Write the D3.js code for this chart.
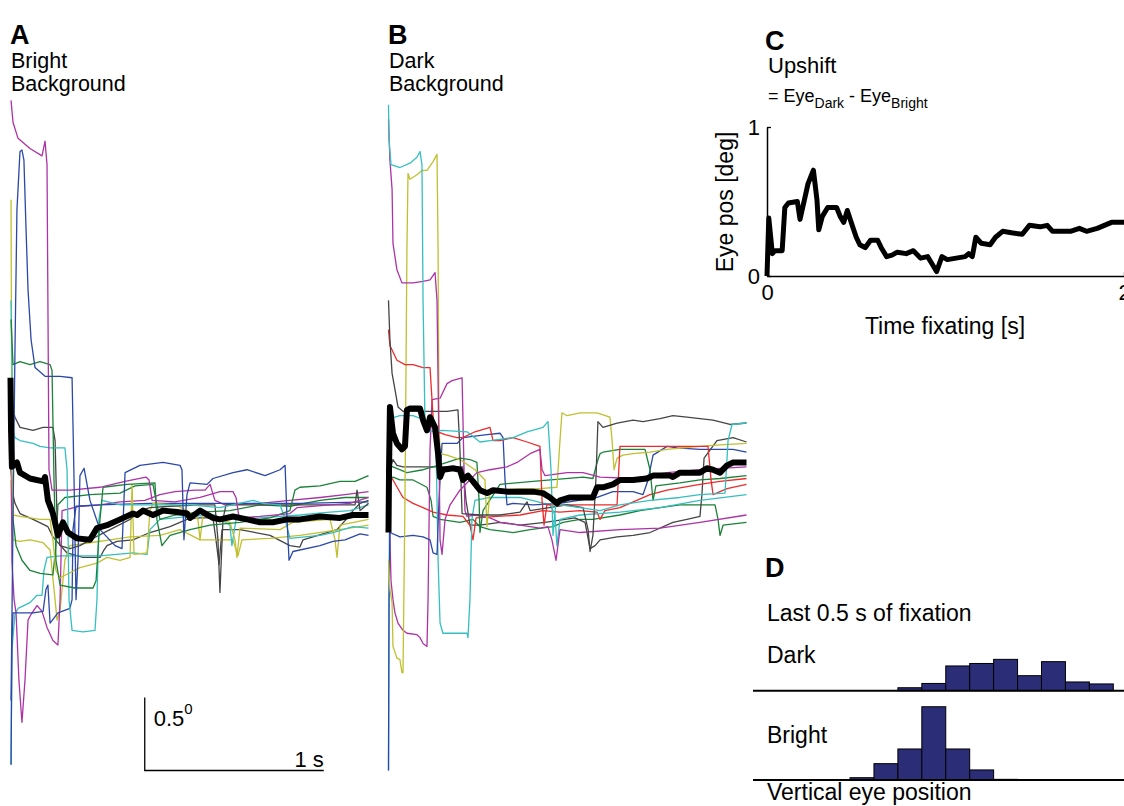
<!DOCTYPE html>
<html>
<head>
<meta charset="utf-8">
<script src="https://cdn.jsdelivr.net/npm/d3@7"></script>
<style>
  html, body { margin: 0; padding: 0; background: #fff; }
  svg { display: block; font-family: "Liberation Sans", Arial, Helvetica, sans-serif; }
</style>
</head>
<body>
<svg id="fig" width="1124" height="806"></svg>
<script>
// ---- Eye position traces, time fixating [s] vs vertical eye position [deg] ----
// Bright background, individual fixations
const brightMagenta1 = [[0.003,2.84],[0.014,2.69],[0.042,2.58],[0.109,2.51],[0.176,2.46],[0.193,2.56],[0.204,2.40],[0.215,0.31],[0.232,0.17],[0.332,0.17],[0.500,0.19],[0.640,0.23],[0.757,0.26],[0.774,0.24],[0.791,0.10],[0.919,0.09],[1.059,0.12],[1.170,0.16],[1.243,0.16],[1.260,0.12],[1.277,-0.02],[1.394,-0.01],[1.561,0.01],[1.600,0.05],[1.785,0.07],[1.897,0.08],[2.0,0.12]];
const brightBlue1 = [[0.003,-1.27],[0.014,-0.03],[0.025,1.13],[0.036,2.09],[0.053,2.49],[0.064,2.50],[0.075,2.43],[0.087,1.95],[0.098,1.54],[0.115,1.20],[0.137,1.01],[0.193,0.95],[0.277,0.95],[0.344,0.94],[0.355,0.24],[0.366,-0.58],[0.377,-0.31],[0.388,0.27],[0.411,0.32],[0.444,0.10],[0.500,-0.10],[0.584,-0.21],[0.623,-0.23],[0.640,0.29],[0.723,0.34],[0.852,0.36],[0.947,0.34],[0.958,0.31],[0.969,-0.17],[0.986,0.14],[1.003,0.22],[1.098,0.21],[1.131,0.25],[1.243,0.29],[1.321,0.31],[1.422,0.27],[1.506,0.31],[1.534,0.34],[1.545,-0.03],[1.556,-0.31],[1.578,-0.25],[1.729,-0.21],[1.802,-0.18],[1.869,-0.17],[1.953,-0.13],[2.0,-0.14]];
const brightBlue2 = [[0.003,-1.71],[0.008,-0.86],[0.014,-0.67],[0.126,-0.67],[0.182,-0.66],[0.198,-0.51],[0.209,-0.48],[0.221,-0.74],[0.265,-0.67],[0.332,-0.64],[0.344,-0.58],[0.349,-0.10],[0.366,0.06],[0.500,0.07],[0.779,0.08],[1.059,0.08],[1.338,0.08],[1.617,0.08],[2.0,0.09]];
const brightGreen1 = [[0.003,1.34],[0.014,1.03],[0.053,1.05],[0.109,1.03],[0.165,1.05],[0.221,1.03],[0.232,0.99],[0.243,0.24],[0.254,-0.31],[0.277,-0.48],[0.360,-0.50],[0.461,-0.50],[0.478,-0.45],[0.500,-0.03],[0.517,0.19],[0.651,0.21],[0.807,0.22],[0.818,-0.03],[0.846,-0.21],[0.891,-0.14],[1.003,-0.10],[1.115,-0.07],[1.282,-0.05],[1.450,-0.02],[1.561,0.03],[1.589,0.17],[1.617,0.19],[1.729,0.20],[1.841,0.23],[1.925,0.23],[2.0,0.27]];
const brightGreen2 = [[0.003,0.38],[0.014,-0.03],[0.031,-0.21],[0.064,-0.31],[0.109,-0.38],[0.165,-0.40],[0.237,-0.41],[0.254,-0.21],[0.265,0.07],[0.304,0.12],[0.444,0.14],[0.612,0.15],[0.696,0.20],[0.796,0.21],[0.813,0.10],[0.835,-0.03],[0.919,0.00],[1.059,0.02],[1.226,0.03],[1.394,0.07],[1.561,0.06],[1.729,0.10],[1.869,0.12],[2.0,0.12]];
const brightGray1 = [[0.003,0.93],[0.014,0.72],[0.025,0.67],[0.053,0.60],[0.126,0.58],[0.182,0.60],[0.237,0.60],[0.249,0.51],[0.260,-0.03],[0.277,-0.21],[0.332,-0.23],[0.388,-0.21],[0.444,-0.17],[0.556,-0.10],[0.668,-0.03],[0.723,0.03],[0.779,0.05],[0.891,0.06],[1.059,0.07],[1.142,0.07],[1.159,-0.17],[1.170,-0.53],[1.187,-0.03],[1.204,0.07],[1.394,0.07],[1.617,0.07],[1.841,0.07],[1.925,0.07],[1.936,0.17],[1.953,0.03],[2.0,0.08]];
const brightGray2 = [[0.003,0.31],[0.014,0.14],[0.025,0.08],[0.053,0.01],[0.126,-0.03],[0.209,-0.08],[0.237,-0.15],[0.316,-0.26],[0.405,-0.29],[0.500,-0.29],[0.522,-0.24],[0.539,-0.21],[0.595,-0.18],[0.684,-0.17],[0.779,-0.12],[0.891,-0.08],[0.986,-0.03],[1.059,-0.02],[1.131,-0.02],[1.148,-0.17],[1.165,-0.34],[1.182,-0.10],[1.282,-0.10],[1.450,-0.14],[1.561,-0.21],[1.617,-0.22],[1.634,-0.17],[1.690,-0.15],[1.824,-0.10],[1.897,0.00],[1.913,0.03],[1.953,0.08],[2.0,0.10]];
const brightCyan1 = [[0.003,1.47],[0.014,0.58],[0.025,0.53],[0.053,0.51],[0.126,0.49],[0.165,0.47],[0.221,0.46],[0.304,0.46],[0.316,0.31],[0.327,-0.58],[0.344,-0.79],[0.405,-0.80],[0.472,-0.79],[0.483,-0.58],[0.494,-0.03],[0.511,0.10],[0.612,0.07],[0.779,0.07],[1.003,0.07],[1.170,0.05],[1.355,0.10],[1.411,0.08],[1.506,0.07],[1.534,-0.03],[1.561,-0.16],[1.729,-0.14],[1.802,-0.12],[1.913,-0.08],[2.0,-0.09]];
const brightCyan2 = [[0.003,-1.71],[0.008,-0.92],[0.025,-0.68],[0.042,-0.64],[0.109,-0.60],[0.148,-0.55],[0.176,-0.55],[0.187,-0.38],[0.204,-0.29],[0.277,-0.28],[0.500,-0.28],[0.684,-0.26],[0.763,-0.27],[0.779,-0.10],[0.835,-0.03],[1.003,-0.01],[1.142,0.00],[1.226,-0.07],[1.237,-0.21],[1.260,-0.03],[1.394,-0.02],[1.617,0.00],[1.785,0.02],[1.897,0.03],[2.0,0.07]];
const brightOlive1 = [[0.003,2.16],[0.008,0.31],[0.014,0.00],[0.053,-0.01],[0.165,-0.03],[0.221,-0.03],[0.237,-0.17],[0.254,-0.38],[0.277,-0.43],[0.388,-0.36],[0.483,-0.33],[0.539,-0.29],[0.612,-0.31],[0.668,-0.29],[0.679,0.21],[0.690,-0.27],[0.763,-0.26],[0.779,0.03],[0.796,0.08],[0.919,0.07],[0.986,0.03],[1.047,-0.03],[1.059,-0.17],[1.075,0.00],[1.226,-0.05],[1.254,-0.17],[1.265,-0.29],[1.282,-0.09],[1.506,-0.10],[1.578,-0.05],[1.785,-0.03],[1.813,-0.17],[1.824,-0.29],[1.841,-0.07],[2.0,-0.03]];
const brightOlive2 = [[0.003,0.24],[0.008,-0.10],[0.014,-0.17],[0.053,-0.18],[0.109,-0.17],[0.182,-0.19],[0.221,-0.24],[0.249,-0.58],[0.260,-0.72],[0.277,-0.65],[0.304,-0.31],[0.332,-0.21],[0.444,-0.19],[0.556,-0.17],[0.668,-0.15],[0.835,-0.14],[0.947,-0.10],[1.059,-0.17],[1.243,-0.17],[1.271,-0.28],[1.293,-0.17],[1.450,-0.16],[1.617,-0.14],[1.841,-0.10],[2.0,-0.07]];
const brightMagenta2 = [[0.003,0.65],[0.008,-0.31],[0.020,-0.58],[0.031,-0.67],[0.047,-1.13],[0.064,-1.42],[0.081,-1.13],[0.098,-0.72],[0.115,-0.68],[0.148,-0.62],[0.176,-0.66],[0.204,-0.77],[0.237,-0.86],[0.265,-0.89],[0.277,-0.58],[0.288,0.03],[0.388,0.06],[0.500,0.07],[0.612,0.09],[0.751,0.10],[0.835,0.14],[0.919,0.16],[1.031,0.17],[1.087,0.17],[1.115,0.21],[1.142,0.10],[1.198,0.07],[1.394,0.08],[1.561,0.10],[1.729,0.12],[1.869,0.14],[2.0,0.16]];
// Bright background, mean over fixations
const brightMean = [[0,0.94],[0.003,0.58],[0.008,0.33],[0.036,0.36],[0.053,0.29],[0.109,0.25],[0.182,0.23],[0.193,0.26],[0.209,0.10],[0.237,0.01],[0.265,-0.14],[0.293,-0.05],[0.321,-0.12],[0.372,-0.16],[0.444,-0.17],[0.483,-0.09],[0.539,-0.07],[0.612,-0.03],[0.684,0.01],[0.707,0.00],[0.740,0.03],[0.796,0.00],[0.852,0.03],[0.930,0.02],[0.986,0.01],[1.003,-0.02],[1.059,0.03],[1.131,-0.02],[1.170,-0.03],[1.243,-0.01],[1.321,-0.03],[1.394,-0.05],[1.466,-0.05],[1.545,-0.03],[1.617,-0.03],[1.729,-0.01],[1.841,-0.02],[1.913,0.00],[2.0,0.00]];

// Dark background, individual fixations
const darkCyan1 = [[0,2.81],[0.003,2.57],[0.014,2.40],[0.064,2.38],[0.120,2.41],[0.159,2.45],[0.176,2.49],[0.187,2.40],[0.193,1.47],[0.204,0.62],[0.221,0.57],[0.299,0.58],[0.439,0.57],[0.511,0.50],[0.567,0.51],[0.696,0.53],[0.774,0.57],[0.863,0.60],[0.891,0.64],[0.908,0.31],[0.919,-0.14],[0.936,0.10],[0.958,0.07],[1.070,0.05],[1.182,0.03],[1.293,0.07],[1.461,0.10],[1.628,0.12],[1.740,0.14],[1.880,0.15],[1.897,0.51],[1.919,0.62],[2.0,0.63]];
const darkCyan2 = [[0,-1.75],[0.003,-0.58],[0.008,0.66],[0.064,0.68],[0.137,0.68],[0.204,0.65],[0.243,0.62],[0.265,0.51],[0.277,-0.31],[0.288,-0.74],[0.304,-0.81],[0.439,-0.81],[0.444,-0.84],[0.455,-0.58],[0.466,-0.03],[0.483,0.10],[0.567,0.12],[0.735,0.12],[0.902,0.07],[0.930,0.00],[0.941,-0.21],[0.958,-0.03],[1.070,0.00],[1.293,0.02],[1.517,0.05],[1.740,0.10],[2.0,0.14]];
const darkMagenta1 = [[0,2.71],[0.008,2.43],[0.020,2.23],[0.025,1.86],[0.047,1.68],[0.075,1.59],[0.137,1.59],[0.193,1.60],[0.232,1.61],[0.260,1.66],[0.271,1.47],[0.282,0.45],[0.288,-0.17],[0.299,-0.27],[0.316,-0.03],[0.344,0.07],[0.399,0.17],[0.494,0.29],[0.567,0.31],[0.662,0.33],[0.718,0.36],[0.791,0.42],[0.846,0.45],[0.858,0.31],[0.874,0.27],[0.997,0.29],[1.087,0.29],[1.182,0.26],[1.366,0.25],[1.556,0.29],[1.740,0.31],[1.852,0.32],[2.0,0.33]];
const darkMagenta2 = [[0,0.65],[0.003,0.10],[0.014,-0.45],[0.025,-0.58],[0.036,-0.67],[0.053,-0.74],[0.081,-0.79],[0.103,-0.81],[0.159,-0.82],[0.176,-0.84],[0.193,-0.88],[0.215,-0.90],[0.221,-0.58],[0.232,0.45],[0.243,0.79],[0.288,0.80],[0.327,0.90],[0.355,0.92],[0.411,0.94],[0.416,0.65],[0.427,0.03],[0.439,-0.01],[0.483,0.00],[0.567,-0.02],[0.623,-0.05],[0.735,-0.07],[0.846,-0.09],[0.891,-0.08],[0.913,-0.17],[0.936,-0.31],[0.958,-0.10],[1.070,-0.12],[1.293,-0.10],[1.517,-0.09],[1.740,-0.05],[2.0,0.00]];
const darkOlive1 = [[0,-0.31],[0.008,-0.51],[0.020,-0.60],[0.025,-0.90],[0.047,-0.98],[0.064,-0.99],[0.075,-1.08],[0.081,-1.08],[0.092,0.10],[0.103,1.82],[0.109,2.34],[0.120,2.30],[0.159,2.33],[0.187,2.36],[0.215,2.36],[0.249,2.42],[0.271,2.47],[0.277,1.82],[0.282,0.65],[0.288,0.42],[0.327,0.41],[0.399,0.38],[0.483,0.31],[0.539,0.24],[0.550,-0.08],[0.567,0.17],[0.735,0.18],[0.846,0.18],[0.941,0.19],[0.958,0.51],[0.969,0.70],[0.997,0.68],[1.070,0.70],[1.165,0.70],[1.237,0.67],[1.249,0.51],[1.260,0.31],[1.277,0.39],[1.310,0.41],[1.366,0.42],[1.461,0.43],[1.556,0.45],[1.645,0.46],[1.740,0.47],[1.852,0.48],[2.0,0.49]];
const darkRed1 = [[0,1.27],[0.008,1.16],[0.020,1.13],[0.047,1.06],[0.092,1.03],[0.137,1.03],[0.193,1.01],[0.232,1.01],[0.243,0.79],[0.254,0.58],[0.316,0.55],[0.383,0.53],[0.416,0.53],[0.483,0.57],[0.567,0.60],[0.584,0.51],[0.623,0.51],[0.696,0.53],[0.774,0.50],[0.846,0.47],[0.858,0.10],[0.869,-0.07],[0.885,0.07],[0.958,0.07],[1.182,0.07],[1.277,0.07],[1.293,0.47],[1.405,0.47],[1.556,0.47],[1.740,0.47],[1.785,0.47],[1.802,0.24],[1.813,0.14],[1.891,0.18],[2.0,0.21]];
const darkRed2 = [[0,0.31],[0.008,0.27],[0.025,0.24],[0.081,0.12],[0.137,0.08],[0.193,0.05],[0.249,0.02],[0.327,0.00],[0.416,-0.01],[0.455,-0.07],[0.472,-0.17],[0.489,-0.02],[0.606,-0.01],[0.735,0.00],[0.863,0.03],[0.958,0.02],[1.070,0.03],[1.165,0.02],[1.182,-0.03],[1.209,0.03],[1.293,0.05],[1.461,0.14],[1.556,0.17],[1.740,0.21],[1.852,0.23],[2.0,0.25]];
const darkGray1 = [[0,1.47],[0.008,1.20],[0.020,0.97],[0.036,0.86],[0.053,0.74],[0.081,0.71],[0.232,0.71],[0.327,0.71],[0.388,0.72],[0.399,0.45],[0.411,0.01],[0.511,0.00],[0.623,0.00],[0.735,0.02],[0.774,0.09],[0.791,0.03],[0.997,0.07],[1.087,0.05],[1.115,-0.10],[1.126,-0.25],[1.142,-0.14],[1.159,0.25],[1.170,0.64],[1.198,0.60],[1.277,0.63],[1.366,0.65],[1.422,0.64],[1.517,0.66],[1.589,0.68],[1.667,0.67],[1.740,0.66],[1.813,0.65],[1.908,0.62],[2.0,0.63]];
const darkGray2 = [[0,0.24],[0.008,0.31],[0.025,0.38],[0.047,0.34],[0.081,0.33],[0.176,0.33],[0.288,0.33],[0.416,0.33],[0.433,0.10],[0.455,-0.07],[0.511,-0.07],[0.623,-0.05],[0.735,-0.07],[0.874,-0.05],[0.986,-0.03],[1.042,-0.02],[1.098,-0.05],[1.126,-0.23],[1.154,-0.21],[1.182,-0.17],[1.277,-0.15],[1.366,-0.14],[1.461,-0.12],[1.589,-0.05],[1.667,-0.03],[1.740,-0.01],[1.751,0.14],[1.763,0.39],[1.835,0.51],[1.925,0.53],[2.0,0.50]];
const darkBlue1 = [[0,-1.75],[0.003,-0.58],[0.008,-0.12],[0.064,-0.15],[0.137,-0.14],[0.193,-0.15],[0.232,-0.17],[0.249,-0.26],[0.271,-0.27],[0.282,0.10],[0.299,0.49],[0.383,0.49],[0.416,0.53],[0.550,0.55],[0.623,0.56],[0.640,0.53],[0.651,0.24],[0.662,0.07],[0.696,0.08],[0.807,0.07],[0.958,0.08],[1.165,0.12],[1.254,0.16],[1.366,0.16],[1.422,0.14],[1.450,0.24],[1.478,0.41],[1.556,0.47],[1.612,0.46],[1.740,0.45],[1.925,0.45],[2.0,0.43]];
const darkGreen1 = [[0,0.38],[0.008,0.34],[0.025,0.33],[0.103,0.29],[0.193,0.31],[0.249,0.33],[0.327,0.36],[0.399,0.39],[0.455,0.38],[0.494,0.36],[0.506,0.10],[0.511,-0.12],[0.528,0.03],[0.623,0.21],[0.807,0.23],[1.087,0.26],[1.142,0.25],[1.170,0.38],[1.182,0.42],[1.198,0.43],[1.293,0.45],[1.433,0.45],[1.461,0.31],[1.478,0.10],[1.494,0.20],[1.628,0.22],[1.740,0.24],[1.852,0.25],[2.0,0.27]];
const darkGreen2 = [[0,0.24],[0.025,0.26],[0.064,0.24],[0.137,0.24],[0.215,0.19],[0.238,0.10],[0.249,-0.01],[0.288,-0.03],[0.399,-0.05],[0.472,-0.03],[0.511,-0.08],[0.567,-0.10],[0.696,-0.12],[0.791,-0.10],[0.919,-0.08],[0.975,-0.05],[1.070,-0.03],[1.142,-0.03],[1.293,0.00],[1.405,0.03],[1.517,0.05],[1.628,0.07],[1.740,0.07],[1.824,0.07],[1.841,-0.03],[1.852,-0.14],[1.869,-0.07],[2.0,-0.05]];
// Dark background, mean over fixations
const darkMean = [[0,-0.12],[0.003,0.31],[0.008,0.74],[0.025,0.56],[0.047,0.49],[0.075,0.45],[0.092,0.47],[0.103,0.72],[0.120,0.73],[0.176,0.73],[0.193,0.65],[0.215,0.58],[0.232,0.67],[0.260,0.60],[0.277,0.42],[0.288,0.26],[0.304,0.31],[0.360,0.32],[0.399,0.31],[0.416,0.24],[0.444,0.27],[0.472,0.23],[0.511,0.17],[0.550,0.15],[0.584,0.17],[0.662,0.16],[0.735,0.16],[0.807,0.16],[0.863,0.15],[0.902,0.12],[0.941,0.08],[0.958,0.10],[1.014,0.12],[1.109,0.12],[1.142,0.12],[1.165,0.19],[1.198,0.19],[1.254,0.21],[1.293,0.24],[1.366,0.24],[1.444,0.25],[1.478,0.27],[1.573,0.27],[1.589,0.26],[1.628,0.29],[1.740,0.29],[1.779,0.32],[1.813,0.31],[1.852,0.29],[1.891,0.34],[1.925,0.36],[2.0,0.36]];

// Upshift = Eye_Dark - Eye_Bright [deg]
const upshift = [[0,0.00],[0.01,0.39],[0.03,0.15],[0.045,0.17],[0.085,0.17],[0.10,0.46],[0.12,0.49],[0.17,0.50],[0.185,0.38],[0.20,0.46],[0.23,0.62],[0.26,0.71],[0.28,0.51],[0.29,0.31],[0.31,0.40],[0.34,0.46],[0.39,0.46],[0.41,0.40],[0.43,0.36],[0.45,0.44],[0.48,0.33],[0.50,0.26],[0.52,0.21],[0.55,0.19],[0.58,0.24],[0.62,0.24],[0.64,0.19],[0.67,0.13],[0.70,0.14],[0.73,0.16],[0.78,0.15],[0.82,0.17],[0.86,0.12],[0.90,0.13],[0.92,0.09],[0.95,0.03],[0.98,0.13],[1.01,0.11],[1.06,0.12],[1.11,0.13],[1.13,0.15],[1.15,0.13],[1.17,0.26],[1.20,0.22],[1.25,0.21],[1.28,0.26],[1.32,0.30],[1.37,0.29],[1.43,0.28],[1.47,0.34],[1.53,0.33],[1.57,0.34],[1.60,0.30],[1.64,0.30],[1.70,0.30],[1.75,0.32],[1.79,0.30],[1.85,0.32],[1.89,0.34],[1.93,0.36],[2.00,0.36]];
const upshiftTicksX = [0, 2];
const upshiftTicksY = [0, 1];

// Histograms of vertical eye position, last 0.5 s of fixation (% of samples)
const binEdgesDeg = [-0.45,-0.30,-0.15,0.00,0.15,0.30,0.45,0.60,0.75,0.90,1.05,1.20];
const darkPct   = [0, 0, 1.8, 4.4, 15.0, 16.5, 19.0, 9.1, 17.6, 5.3, 4.1];
const brightPct = [1.4, 9.9, 18.8, 44.4, 18.8, 6.1, 0.4, 0, 0, 0, 0];

// ---- drawing ----
const C = {
  magenta: "#ac33a6", blue: "#2b48a8", green: "#1b8239", cyan: "#36bfc0",
  olive: "#c0c031", gray: "#454545", red: "#ee2a2a"
};
const brightTraces = [
  [brightGray2, C.gray], [brightOlive2, C.olive], [brightCyan2, C.cyan], [brightGreen2, C.green],
  [brightMagenta2, C.magenta], [brightBlue2, C.blue], [brightOlive1, C.olive], [brightGray1, C.gray],
  [brightCyan1, C.cyan], [brightGreen1, C.green], [brightMagenta1, C.magenta], [brightBlue1, C.blue]
];
const darkTraces = [
  [darkGreen2, C.green], [darkGray2, C.gray], [darkRed2, C.red], [darkCyan2, C.cyan],
  [darkMagenta2, C.magenta], [darkBlue1, C.blue], [darkGreen1, C.green], [darkOlive1, C.olive],
  [darkRed1, C.red], [darkGray1, C.gray], [darkMagenta1, C.magenta], [darkCyan1, C.cyan]
];

const svg = d3.select("#fig");
svg.append("rect").attr("width", 1124).attr("height", 806).attr("fill", "#fff");

// shared vertical scale for panels A and B
const yEye = d3.scaleLinear().domain([-1.75, 2.85]).range([770.5, 98.9]);
const xA = d3.scaleLinear().domain([0, 2]).range([10.5, 368.5]);
const xB = d3.scaleLinear().domain([0, 2]).range([388.5, 746.5]);

function drawPanel(xs, traces, mean) {
  const g = svg.append("g");
  const line = d3.line().x(d => xs(d[0])).y(d => yEye(d[1]));
  g.selectAll("path.trace").data(traces).join("path")
    .attr("class", "trace")
    .attr("d", d => line(d[0]))
    .attr("fill", "none")
    .attr("stroke", d => d[1])
    .attr("stroke-width", 1.3)
    .attr("stroke-linejoin", "round");
  g.append("path")
    .attr("d", line(mean))
    .attr("fill", "none")
    .attr("stroke", "#000")
    .attr("stroke-width", 6)
    .attr("stroke-linejoin", "round")
    .attr("stroke-linecap", "butt");
}
drawPanel(xA, brightTraces, brightMean);
drawPanel(xB, darkTraces, darkMean);

// scale bar: 0.5 deg by 1 s
const sbT0 = 0.75, sbV0 = -1.75;
svg.append("path")
  .attr("d", `M${xA(sbT0)},${yEye(sbV0 + 0.5)} V${yEye(sbV0)} H${xA(sbT0 + 1)}`)
  .attr("fill", "none").attr("stroke", "#000").attr("stroke-width", 1.3);
const sbLabel = svg.append("text").attr("x", xA(sbT0) + 9).attr("y", 726).attr("font-size", 22);
sbLabel.append("tspan").text("0.5");
sbLabel.append("tspan").attr("font-size", 15).attr("dy", -12).text("0");
svg.append("text").attr("x", xA(sbT0 + 1)).attr("y", 767).attr("text-anchor", "end")
  .attr("font-size", 22).text("1 s");

// panel letters and titles
function letter(x, y, s) {
  svg.append("text").attr("x", x).attr("y", y).attr("font-size", 27)
    .attr("font-weight", "bold").text(s);
}
letter(10, 44, "A");
letter(388, 44, "B");
letter(765, 50, "C");
letter(765, 577, "D");
function label(x, y, s, size) {
  svg.append("text").attr("x", x).attr("y", y).attr("font-size", size || 23).text(s);
}
label(11, 68, "Bright", 21.5);
label(11, 91, "Background", 21.5);
label(389, 68, "Dark", 21.5);
label(389, 91, "Background", 21.5);

// panel C: upshift over time
label(768, 73, "Upshift", 22);
const eq = svg.append("text").attr("x", 768).attr("y", 102).attr("font-size", 18);
eq.append("tspan").text("=  Eye");
eq.append("tspan").attr("font-size", 14).attr("dy", 6).text("Dark");
eq.append("tspan").attr("dy", -6).text(" - Eye");
eq.append("tspan").attr("font-size", 14).attr("dy", 6).text("Bright");

const xC = d3.scaleLinear().domain([0, 2]).range([767, 1124]);
const yC = d3.scaleLinear().domain([0, 1]).range([276, 127]);
const axY = svg.append("g").attr("transform", "translate(767,0)")
  .call(d3.axisLeft(yC).tickValues(upshiftTicksY).tickFormat(d3.format("d"))
    .tickSize(-4).tickSizeOuter(0).tickPadding(7));
const axX = svg.append("g").attr("transform", "translate(0,276)")
  .call(d3.axisBottom(xC).tickValues(upshiftTicksX).tickFormat(d3.format("d"))
    .tickSize(-4).tickSizeOuter(0).tickPadding(8));
[axY, axX].forEach(a => {
  a.select(".domain").attr("stroke", "#000").attr("stroke-width", 1.5);
  a.selectAll(".tick line").attr("stroke", "#000").attr("stroke-width", 1.3);
  a.selectAll(".tick text").attr("font-size", 22).attr("fill", "#000")
    .attr("font-family", "Liberation Sans, Arial, sans-serif");
});
axX.selectAll(".tick line").filter(d => d === 0).remove();
svg.append("path")
  .attr("d", d3.line().x(d => xC(d[0])).y(d => yC(d[1]))(upshift))
  .attr("fill", "none").attr("stroke", "#000").attr("stroke-width", 5)
  .attr("stroke-linejoin", "round");
svg.append("text").attr("x", 945).attr("y", 334).attr("text-anchor", "middle")
  .attr("font-size", 23).text("Time fixating [s]");
svg.append("text").attr("transform", "translate(733,202) rotate(-90)")
  .attr("text-anchor", "middle").attr("font-size", 23).text("Eye pos [deg]");

// panel D: histograms
label(767, 621, "Last 0.5 s of fixation");
const xD = d3.scaleLinear().domain([-1.058, 1.267]).range([753, 1124]);
const hD = d3.scaleLinear().domain([0, 50]).range([0, 82.5]);
function histogram(base, pct) {
  const bins = pct.map((p, i) => ({ x0: binEdgesDeg[i], x1: binEdgesDeg[i + 1], p }))
    .filter(b => b.p > 0);
  svg.append("g").selectAll("rect").data(bins).join("rect")
    .attr("x", b => xD(b.x0)).attr("width", b => xD(b.x1) - xD(b.x0))
    .attr("y", b => base - hD(b.p)).attr("height", b => hD(b.p))
    .attr("fill", "#2b2d77").attr("stroke", "#000").attr("stroke-width", 1);
  svg.append("line").attr("x1", xD.range()[0]).attr("x2", xD.range()[1])
    .attr("y1", base).attr("y2", base).attr("stroke", "#000").attr("stroke-width", 2);
}
histogram(690.7, darkPct);
histogram(780, brightPct);
label(767, 663, "Dark");
label(767, 743, "Bright");
label(767, 800, "Vertical eye position");
</script>
</body>
</html>
